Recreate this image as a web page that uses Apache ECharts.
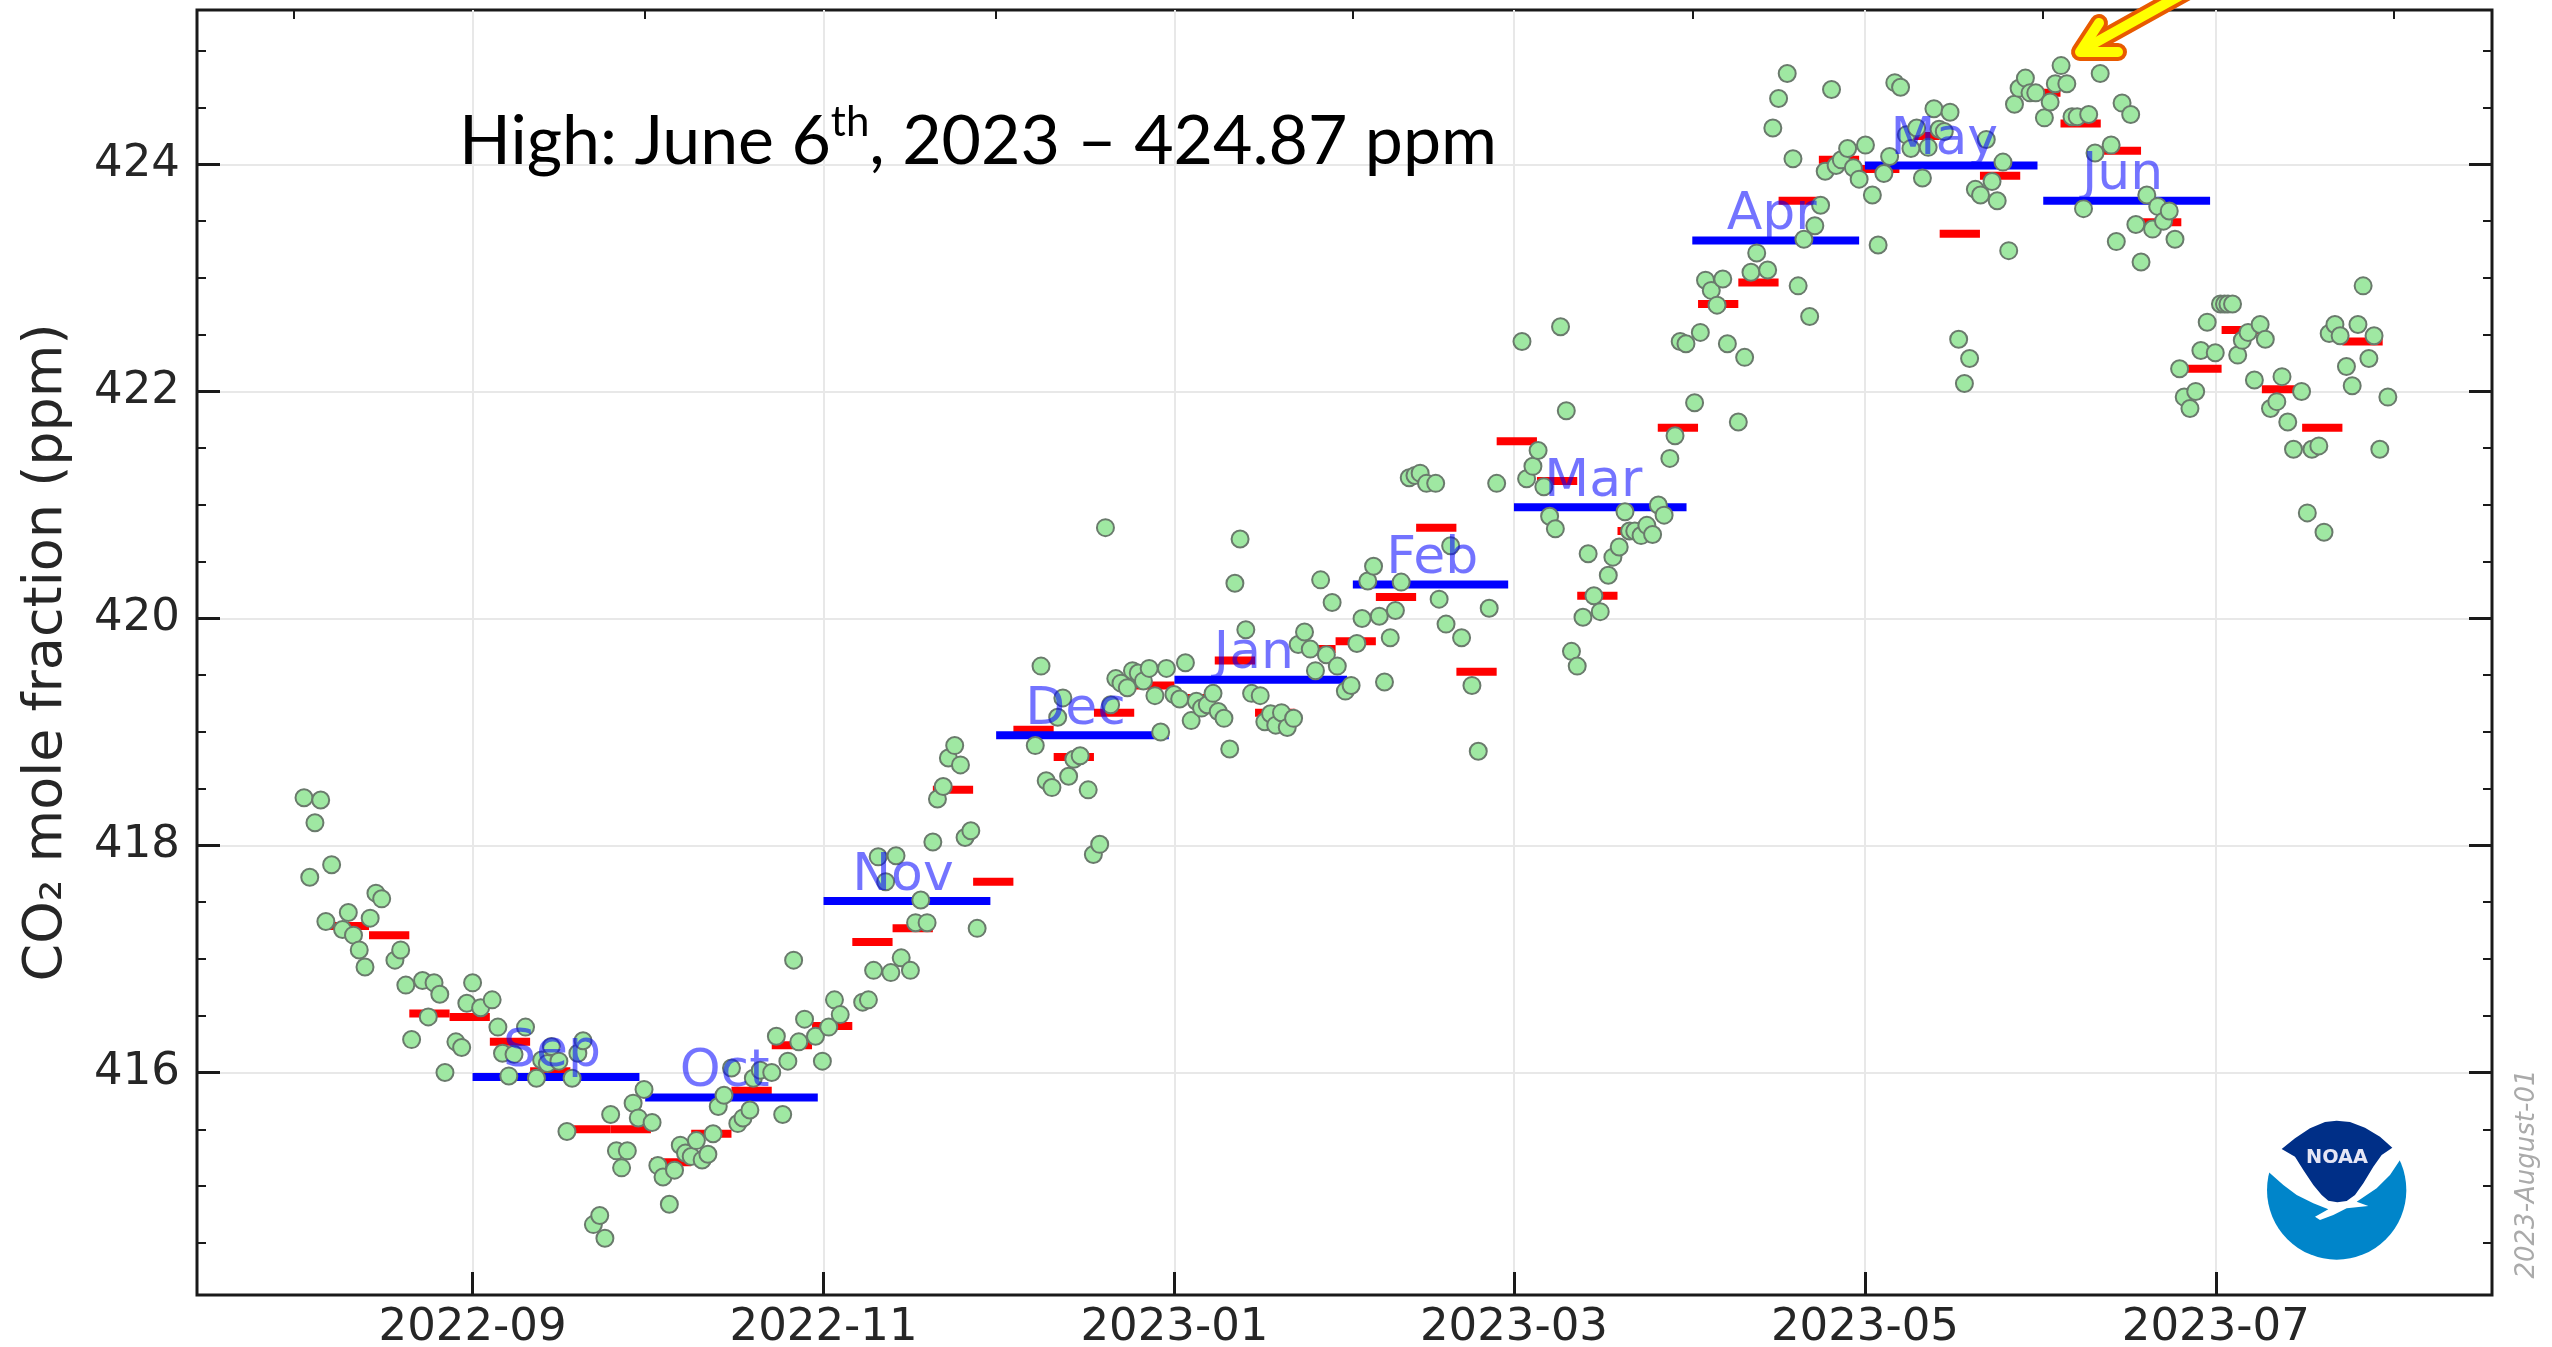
<!DOCTYPE html>
<html>
<head>
<meta charset="utf-8">
<title>CO2 mole fraction</title>
<style>
html, body { margin: 0; padding: 0; background: #fff; }
#main { width: 2552px; height: 1347px; }
</style>
<script src="https://cdn.jsdelivr.net/npm/echarts@6/dist/echarts.min.js"></script>
</head>
<body>
<div id="main"></div>
<script>
// tick labels and positions
var xMajorLabels = ['2022-09', '2022-11', '2023-01', '2023-03', '2023-05', '2023-07'];
var xMinorDates = ['2022-08-01', '2022-10-01', '2022-12-01', '2023-02-01', '2023-04-01', '2023-06-01', '2023-08-01'];
var yMajorTicks = [416, 418, 420, 422, 424];
var yMinorTicks = [414.5, 415, 415.5, 416.5, 417, 417.5, 418.5, 419, 419.5, 420.5, 421, 421.5, 422.5, 423, 423.5, 424.5, 425];

// monthly means (blue)
var monthNames = ['Sep', 'Oct', 'Nov', 'Dec', 'Jan', 'Feb', 'Mar', 'Apr', 'May', 'Jun'];
var monthStarts = ['2022-09-01', '2022-10-01', '2022-11-01', '2022-12-01', '2023-01-01', '2023-02-01', '2023-03-01', '2023-04-01', '2023-05-01', '2023-06-01'];
var monthEnds = ['2022-09-30', '2022-10-31', '2022-11-30', '2022-12-31', '2023-01-31', '2023-02-28', '2023-03-31', '2023-04-30', '2023-05-31', '2023-06-30'];
var monthValues = [415.96, 415.78, 417.51, 418.97, 419.46, 420.30, 420.98, 423.33, 423.99, 423.68];

// weekly means (red)
var weekStarts = ['2022-08-07', '2022-08-14', '2022-08-21', '2022-08-28', '2022-09-04', '2022-09-11', '2022-09-18', '2022-09-25',
    '2022-10-02', '2022-10-09', '2022-10-16', '2022-10-23', '2022-10-30', '2022-11-06', '2022-11-13', '2022-11-20', '2022-11-27',
    '2022-12-04', '2022-12-11', '2022-12-18', '2022-12-25', '2023-01-01', '2023-01-08', '2023-01-15', '2023-01-22', '2023-01-29',
    '2023-02-05', '2023-02-12', '2023-02-19', '2023-02-26', '2023-03-05', '2023-03-12', '2023-03-19', '2023-03-26', '2023-04-02',
    '2023-04-09', '2023-04-16', '2023-04-23', '2023-04-30', '2023-05-07', '2023-05-14', '2023-05-21', '2023-05-28', '2023-06-04',
    '2023-06-11', '2023-06-18', '2023-06-25', '2023-07-02', '2023-07-09', '2023-07-16', '2023-07-23'];
var weekValues = [417.29, 417.21, 416.52, 416.49, 416.27, 416.01, 415.50, 415.50,
    415.21, 415.46, 415.84, 416.24, 416.41, 417.15, 417.27, 418.49, 417.68,
    419.02, 418.78, 419.17, 419.41, 419.30, 419.63, 419.17, 419.73, 419.80,
    420.19, 420.80, 419.53, 421.56, 421.21, 420.20, 420.77, 421.68, 422.77,
    422.96, 423.68, 424.04, 423.96, 424.25, 423.39, 423.90, 424.63, 424.36,
    424.12, 423.49, 422.20, 422.54, 422.02, 421.68, 422.44];

// daily means (green), [days from 2022-09-01, ppm]
var dailyAug = [[-29.3, 418.42], [-28.3, 417.72], [-27.4, 418.20], [-26.4, 418.40], [-25.5, 417.33], [-24.5, 417.83], [-22.6, 417.26],
    [-21.6, 417.41], [-20.7, 417.21], [-19.7, 417.08], [-18.7, 416.93], [-17.8, 417.36], [-16.8, 417.58], [-15.8, 417.53], [-13.5, 416.99],
    [-12.5, 417.08], [-11.6, 416.77], [-10.6, 416.29], [-8.7, 416.81], [-7.7, 416.49], [-6.7, 416.79], [-5.7, 416.69], [-4.8, 416.00],
    [-2.9, 416.27], [-1.9, 416.22], [-1, 416.61]];
var dailySep = [[0, 416.79], [1.4, 416.57], [3.4, 416.64], [4.4, 416.40], [5.2, 416.17], [6.3, 415.97], [7.2, 416.16], [9.2, 416.40],
    [11.1, 415.95], [12, 416.11], [13, 416.08], [13.7, 416.23], [15, 416.10], [16.4, 415.48], [17.3, 415.95], [18.3, 416.17], [19.2, 416.28],
    [21, 414.66], [22.1, 414.74], [23, 414.54], [24, 415.63], [25, 415.31], [25.9, 415.16], [26.9, 415.31], [27.9, 415.73], [28.8, 415.60], [29.8, 415.85]];
var dailyOct = [[31.2, 415.56], [32.2, 415.18], [33.1, 415.08], [34.2, 414.84], [35.1, 415.14], [36.1, 415.36], [37, 415.29], [38, 415.26],
    [38.9, 415.40], [39.9, 415.23], [40.9, 415.28], [41.8, 415.46], [42.7, 415.70], [43.7, 415.80], [45, 416.04], [46.1, 415.55], [47, 415.60],
    [48.2, 415.67], [48.8, 415.95], [50, 416.02], [52, 416.00], [52.8, 416.32], [53.9, 415.63], [54.8, 416.10], [55.8, 416.99], [56.7, 416.27],
    [57.7, 416.47], [59.6, 416.32], [60.8, 416.10]];
var dailyNov = [[61.9, 416.40], [62.9, 416.64], [63.9, 416.51], [67.8, 416.62], [68.8, 416.64], [69.7, 416.90], [70.5, 417.90], [71.8, 417.68],
    [72.7, 416.88], [73.6, 417.91], [74.5, 417.01], [76.1, 416.90], [77, 417.32], [77.9, 417.52], [79, 417.32], [80, 418.03], [80.8, 418.41],
    [81.8, 418.52], [82.7, 418.77], [83.8, 418.88], [84.8, 418.71], [85.6, 418.07], [86.6, 418.13], [87.7, 417.27]];
var dailyDec = [[97.8, 418.88], [98.8, 419.58], [99.7, 418.57], [100.7, 418.51], [101.7, 419.13], [102.6, 419.30], [103.6, 418.61], [104.5, 418.76],
    [105.6, 418.79], [107, 418.49], [107.9, 417.92], [109, 418.01], [110, 420.80], [110.9, 419.24], [111.8, 419.47], [112.7, 419.43], [113.8, 419.39],
    [114.7, 419.54], [115.7, 419.52], [116.6, 419.45], [117.6, 419.56], [118.6, 419.32], [119.6, 419.00], [120.6, 419.56]];
var dailyJan = [[121.9, 419.33], [122.9, 419.29], [123.9, 419.61], [124.9, 419.10], [125.8, 419.27], [126.7, 419.21], [127.7, 419.24], [128.7, 419.34],
    [129.6, 419.18], [130.6, 419.12], [131.6, 418.85], [132.5, 420.31], [133.4, 420.70], [134.4, 419.90], [135.4, 419.34], [136.9, 419.32], [137.7, 419.09],
    [138.7, 419.16], [139.6, 419.06], [140.6, 419.17], [141.6, 419.04], [142.7, 419.12], [143.5, 419.77], [144.6, 419.88], [145.6, 419.73], [146.5, 419.54],
    [147.4, 420.34], [148.4, 419.68], [149.4, 420.14], [150.3, 419.58], [151.7, 419.36]];
var dailyFeb = [[152.7, 419.41], [153.7, 419.78], [154.6, 420.00], [155.6, 420.33], [156.6, 420.46], [157.6, 420.02], [158.5, 419.44], [159.5, 419.83],
    [160.4, 420.07], [161.4, 420.32], [162.8, 421.24], [163.8, 421.26], [164.7, 421.28], [165.8, 421.19], [167.4, 421.19], [168, 420.17], [169.2, 419.95],
    [170, 420.64], [171.9, 419.83], [173.7, 419.41], [174.8, 418.83], [176.7, 420.09], [178, 421.19]];
var dailyMar = [[182.4, 422.44], [183.2, 421.23], [184.3, 421.34], [185.2, 421.48], [186.2, 421.16], [187.2, 420.90], [188.2, 420.79], [189.1, 422.57],
    [190.1, 421.83], [191, 419.71], [192, 419.58], [193, 420.01], [193.9, 420.57], [194.9, 420.20], [196, 420.06], [197.4, 420.38], [198.2, 420.54],
    [199.3, 420.63], [200.3, 420.94], [201.1, 420.77], [202, 420.77], [203.1, 420.73], [204.1, 420.82], [205.1, 420.74], [206.1, 421.00], [207.1, 420.91],
    [208.1, 421.41], [209, 421.61], [209.9, 422.44], [210.9, 422.42]];
var dailyApr = [[212.4, 421.90], [213.4, 422.52], [214.3, 422.98], [215.3, 422.89], [216.3, 422.76], [217.3, 422.99], [218.1, 422.42], [220, 421.73],
    [221.1, 422.30], [222.2, 423.05], [223.2, 423.22], [225.1, 423.07], [226, 424.32], [227, 424.58], [228.5, 424.80], [229.5, 424.05], [230.4, 422.93],
    [231.4, 423.34], [232.4, 422.66], [233.3, 423.46], [234.3, 423.64], [235.1, 423.94], [236.2, 424.66], [237, 423.99], [237.9, 424.04], [239, 424.14],
    [240, 423.97], [241, 423.87]];
var dailyMay = [[242.1, 424.17], [243.3, 423.73], [244.3, 423.29], [245.3, 423.92], [246.3, 424.07], [247.2, 424.72], [248.2, 424.68], [249.2, 424.26],
    [250, 424.14], [251, 424.32], [252, 423.88], [253, 424.15], [254, 424.49], [254.9, 424.31], [255.8, 424.29], [256.8, 424.46], [258.3, 422.46], [259.3, 422.07],
    [260.2, 422.29], [261.2, 423.78], [262.1, 423.73], [263.1, 424.22], [264.1, 423.85], [265, 423.68], [266, 424.02], [267, 423.24], [268, 424.53], [268.8, 424.67],
    [269.9, 424.76], [270.7, 424.63], [271.7, 424.63]];
var dailyJun = [[273.2, 424.41], [274.2, 424.55], [275.1, 424.71], [276.1, 424.87], [277.1, 424.71], [278, 424.42], [278.9, 424.42], [280, 423.61], [280.9, 424.44],
    [282, 424.10], [282.9, 424.80], [284.8, 424.17], [285.7, 423.32], [286.7, 424.54], [288.2, 424.44], [289.1, 423.47], [290, 423.14], [291, 423.73], [292, 423.43],
    [292.9, 423.63], [293.9, 423.50], [294.9, 423.59], [295.9, 423.34], [296.7, 422.20], [297.5, 421.95], [298.5, 421.85], [299.5, 422.00], [300.4, 422.36],
    [301.5, 422.61], [302.9, 422.34]];
var dailyJul = [[303.8, 422.77], [304.5, 422.77], [305.1, 422.77], [305.9, 422.77], [306.8, 422.32], [307.6, 422.45], [308.6, 422.52], [309.7, 422.10], [310.7, 422.59],
    [311.6, 422.46], [312.5, 421.85], [313.6, 421.91], [314.5, 422.13], [315.5, 421.73], [316.5, 421.49], [317.9, 422.00], [318.9, 420.93], [319.7, 421.49], [320.9, 421.52],
    [321.8, 420.76], [322.7, 422.51], [323.7, 422.59], [324.6, 422.49], [325.7, 422.22], [326.7, 422.05], [327.7, 422.59], [328.6, 422.93], [329.6, 422.29], [330.5, 422.49],
    [331.5, 421.49], [332.9, 421.95]];

var DAY = 86400000;
function ms(str) {
    return new Date(str + 'T00:00:00').getTime();
}
var sep1 = ms('2022-09-01');
var xMin = sep1 - 47.9 * DAY;
var xMax = sep1 + 351 * DAY;
var yMin = 414.04;
var yMax = 425.36;

var xMajorValues = [];
for (var i = 0; i < xMajorLabels.length; i++) {
    xMajorValues.push(ms(xMajorLabels[i] + '-01'));
}

var dailyData = [].concat(dailyAug, dailySep, dailyOct, dailyNov, dailyDec, dailyJan, dailyFeb, dailyMar, dailyApr, dailyMay, dailyJun, dailyJul)
    .map(function (p) { return [sep1 + p[0] * DAY, p[1]]; });
var weekData = weekStarts.map(function (d, i) { return [ms(d), ms(d) + 7 * DAY, weekValues[i]]; });
var monthData = monthStarts.map(function (d, i) { return [ms(d), ms(monthEnds[i]), monthValues[i]]; });

function segment(color) {
    return function (params, api) {
        var a = api.coord([api.value(0), api.value(2)]);
        var b = api.coord([api.value(1), api.value(2)]);
        return {
            type: 'line',
            shape: { x1: a[0], y1: a[1], x2: b[0], y2: b[1] },
            style: { stroke: color, lineWidth: 8 }
        };
    };
}

// names sit about two weeks into each month
function monthLabel(params, api) {
    var p = api.coord([api.value(0) + 13.8 * DAY, api.value(2)]);
    return {
        type: 'text',
        style: {
            text: monthNames[params.dataIndex],
            x: p[0],
            y: p[1] + 1,
            align: 'center',
            verticalAlign: 'bottom',
            fill: 'rgba(0,0,255,0.55)',
            fontFamily: 'DejaVu Sans',
            fontSize: 52
        }
    };
}

var tickFont = { color: '#262626', fontFamily: 'DejaVu Sans', fontSize: 45 };

// arrow and NOAA logo are drawn in page pixels
var arrowStroke = function (width, color) {
    return [{
        type: 'polyline',
        shape: { points: [[2099, 23], [2080, 52], [2118, 52]] },
        style: { stroke: color, lineWidth: width, lineJoin: 'round', lineCap: 'round', fill: null },
        z: 20
    }, {
        type: 'line',
        shape: { x1: 2084, y1: 49, x2: 2190, y2: -10 },
        style: { stroke: color, lineWidth: width, lineCap: 'round' },
        z: 20
    }];
};

var noaaLogo = {
    type: 'group',
    x: 2200,
    y: 1000,
    scaleX: 1 / 3,
    scaleY: 1 / 3,
    z: 15,
    children: [{
        type: 'circle',
        shape: { cx: 410, cy: 570, r: 209 },
        style: { fill: '#0085ca' }
    }, {
        type: 'polygon',
        shape: { points: [[195, 350], [625, 350], [625, 470], [600, 480], [570, 525], [530, 565], [470, 605], [505, 618], [440, 625], [400, 645], [360, 660], [345, 650], [385, 628], [340, 610], [290, 585], [250, 555], [205, 515], [195, 515]] },
        style: { fill: '#fff' }
    }, {
        type: 'polygon',
        shape: { points: [[245, 447], [285, 415], [330, 385], [375, 366], [410, 362], [450, 366], [495, 383], [540, 410], [577, 443], [545, 465], [520, 500], [490, 550], [465, 585], [440, 603], [412, 607], [385, 602], [365, 585], [340, 555], [310, 510], [285, 470]] },
        style: { fill: '#002f87' }
    }, {
        type: 'text',
        style: {
            text: 'NOAA', x: 411, y: 473, align: 'center', verticalAlign: 'middle',
            fill: '#e6e6f5', fontFamily: 'DejaVu Sans', fontWeight: 'bold', fontSize: 58
        }
    }]
};

var option = {
    backgroundColor: '#fff',
    animation: false,
    grid: {
        show: true,
        left: 197,
        right: 60,
        top: 10,
        bottom: 52,
        outerBoundsMode: 'none',
        borderColor: '#1a1a1a',
        borderWidth: 3,
        backgroundColor: '#fff'
    },
    xAxis: [{
        type: 'value',
        min: xMin,
        max: xMax,
        axisLine: { show: false },
        axisTick: { show: true, inside: true, length: 23, customValues: xMajorValues, lineStyle: { color: '#1a1a1a', width: 3 } },
        axisLabel: {
            show: true,
            customValues: xMajorValues,
            hideOverlap: false,
            margin: 11,
            color: tickFont.color,
            fontFamily: tickFont.fontFamily,
            fontSize: tickFont.fontSize,
            formatter: function (v) { return xMajorLabels[xMajorValues.indexOf(v)]; }
        },
        splitLine: { show: true, lineStyle: { color: '#e8e8e8', width: 2 } }
    }, {
        type: 'value',
        min: xMin,
        max: xMax,
        axisLine: { show: false },
        axisTick: { show: true, inside: true, length: 9, customValues: xMinorDates.map(ms), lineStyle: { color: '#1a1a1a', width: 2 } },
        axisLabel: { show: false },
        splitLine: { show: false }
    }],
    yAxis: [{
        type: 'value',
        position: 'left',
        min: yMin,
        max: yMax,
        name: 'CO\u2082 mole fraction (ppm)',
        nameLocation: 'middle',
        nameRotate: 90,
        nameGap: 123,
        nameTextStyle: { color: tickFont.color, fontFamily: tickFont.fontFamily, fontSize: 54 },
        axisLine: { show: false },
        axisTick: { show: true, inside: true, length: 23, customValues: yMajorTicks, lineStyle: { color: '#1a1a1a', width: 3 } },
        axisLabel: {
            show: true,
            customValues: yMajorTicks,
            margin: 17,
            color: tickFont.color,
            fontFamily: tickFont.fontFamily,
            fontSize: tickFont.fontSize
        },
        splitLine: { show: true, lineStyle: { color: '#e8e8e8', width: 2 } }
    }, {
        type: 'value',
        position: 'left',
        min: yMin,
        max: yMax,
        axisLine: { show: false },
        axisTick: { show: true, inside: true, length: 9, customValues: yMinorTicks, lineStyle: { color: '#1a1a1a', width: 2 } },
        axisLabel: { show: false },
        splitLine: { show: false }
    }, {
        type: 'value',
        position: 'right',
        min: yMin,
        max: yMax,
        axisLine: { show: false },
        axisTick: { show: true, inside: true, length: 23, customValues: yMajorTicks, lineStyle: { color: '#1a1a1a', width: 3 } },
        axisLabel: { show: false },
        splitLine: { show: false }
    }, {
        type: 'value',
        position: 'right',
        min: yMin,
        max: yMax,
        axisLine: { show: false },
        axisTick: { show: true, inside: true, length: 9, customValues: yMinorTicks, lineStyle: { color: '#1a1a1a', width: 2 } },
        axisLabel: { show: false },
        splitLine: { show: false }
    }],
    series: [{
        name: 'weekly',
        type: 'custom',
        renderItem: segment('#ff0000'),
        encode: { x: [0, 1], y: 2 },
        data: weekData,
        z: 3
    }, {
        name: 'monthly',
        type: 'custom',
        renderItem: segment('#0000ff'),
        encode: { x: [0, 1], y: 2 },
        data: monthData,
        z: 4
    }, {
        name: 'daily',
        type: 'scatter',
        symbol: 'circle',
        symbolSize: 17,
        itemStyle: { color: '#9fe8a2', borderColor: '#6a7a6c', borderWidth: 2, opacity: 1 },
        data: dailyData,
        z: 5
    }, {
        name: 'month names',
        type: 'custom',
        renderItem: monthLabel,
        encode: { x: [0, 1], y: 2 },
        data: monthData,
        z: 6
    }],
    graphic: [{
        type: 'text',
        x: 459,
        y: 142,
        z: 20,
        style: {
            text: 'High: June 6{sup|th}, 2023 \u2013 424.87 ppm',
            fill: '#000',
            fontFamily: 'Lato',
            fontSize: 68,
            verticalAlign: 'middle',
            rich: {
                sup: { fontFamily: 'Lato', fontSize: 42, verticalAlign: 'top', lineHeight: 82, fill: '#000' }
            }
        }
    }, {
        type: 'text',
        x: 2527,
        y: 1174,
        rotation: Math.PI / 2,
        z: 20,
        style: {
            text: '2023-August-01',
            fill: '#aaaaaa',
            fontFamily: 'DejaVu Sans',
            fontStyle: 'italic',
            fontSize: 26,
            align: 'center',
            verticalAlign: 'middle'
        }
    }, noaaLogo].concat(arrowStroke(18, '#e85a00'), arrowStroke(10, '#ffff00'))
};

var myChart = echarts.init(document.getElementById('main'));
myChart.setOption(option);
</script>
</body>
</html>
